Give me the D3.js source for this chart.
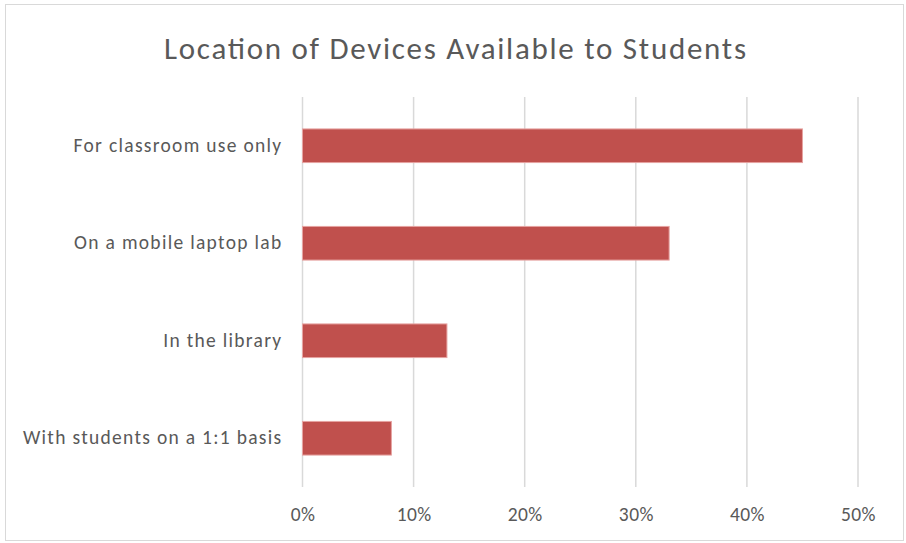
<!DOCTYPE html>
<html>
<head>
<meta charset="utf-8">
<script src="https://cdn.jsdelivr.net/npm/d3@7"></script>
<style>
  html, body { margin: 0; padding: 0; background: #fff; }
  svg { display: block; }
  text { font-family: Carlito, Lato, "Open Sans", sans-serif; fill: #595959; }
</style>
</head>
<body>
<div id="chart"></div>
<script>
const title = "Location of Devices Available to Students";
const categories = [
  "For classroom use only",
  "On a mobile laptop lab",
  "In the library",
  "With students on a 1:1 basis"
];
const values = [0.45, 0.33, 0.13, 0.08];
const tickValues = [0, 0.1, 0.2, 0.3, 0.4, 0.5];

const W = 906, H = 543;
const margin = { top: 97, right: 48, bottom: 56, left: 302.5 };

const svg = d3.select("#chart").append("svg")
  .attr("width", W).attr("height", H);

svg.append("rect")
  .attr("x", 5.5).attr("y", 4.5)
  .attr("width", 898).attr("height", 536)
  .attr("fill", "#fff").attr("stroke", "#d9d9d9").attr("stroke-width", 1);

const x = d3.scaleLinear().domain([0, 0.5]).range([margin.left, 858]);
const y = d3.scaleBand().domain(categories)
  .range([margin.top, 487])
  .paddingInner(0.655).paddingOuter(0.3275);

// gridlines
svg.append("g").selectAll("line").data(tickValues).join("line")
  .attr("x1", d => x(d)).attr("x2", d => x(d))
  .attr("y1", margin.top).attr("y2", 487)
  .attr("stroke", "#d9d9d9").attr("stroke-width", 1.5);

// bars
svg.append("g").selectAll("rect").data(values).join("rect")
  .attr("x", x(0))
  .attr("y", (d, i) => y(categories[i]))
  .attr("width", d => x(d) - x(0))
  .attr("height", y.bandwidth())
  .attr("fill", "#c0504d")
  .attr("stroke", "#e6a3a1").attr("stroke-width", 1);

// x axis
const xAxis = d3.axisBottom(x).tickValues(tickValues)
  .tickFormat(d3.format(".0%")).tickSize(0).tickPadding(0);
const gx = svg.append("g").attr("transform", "translate(0,521)").call(xAxis);
gx.select(".domain").remove();
gx.selectAll("text").attr("font-size", 19.5).attr("y", 0).attr("dy", 0)
  .style("letter-spacing", "0.4px")
  .style("font-family", "Carlito, Lato, sans-serif").attr("fill", "#595959");

// y axis labels
const yAxis = d3.axisLeft(y).tickSize(0).tickPadding(20);
const gy = svg.append("g").attr("transform", `translate(${x(0)},0)`).call(yAxis);
gy.select(".domain").remove();
gy.selectAll("text").attr("font-size", 19.5).attr("dy", "0.3em")
  .style("letter-spacing", "1.3px")
  .style("font-family", "Carlito, Lato, sans-serif").attr("fill", "#595959");

// title
svg.append("text")
  .attr("x", 455).attr("y", 58.5)
  .attr("text-anchor", "middle")
  .attr("font-size", 31)
  .attr("textLength", 582).attr("lengthAdjust", "spacing")
  .style("font-weight", 300)
  .text(title);
</script>
</body>
</html>
